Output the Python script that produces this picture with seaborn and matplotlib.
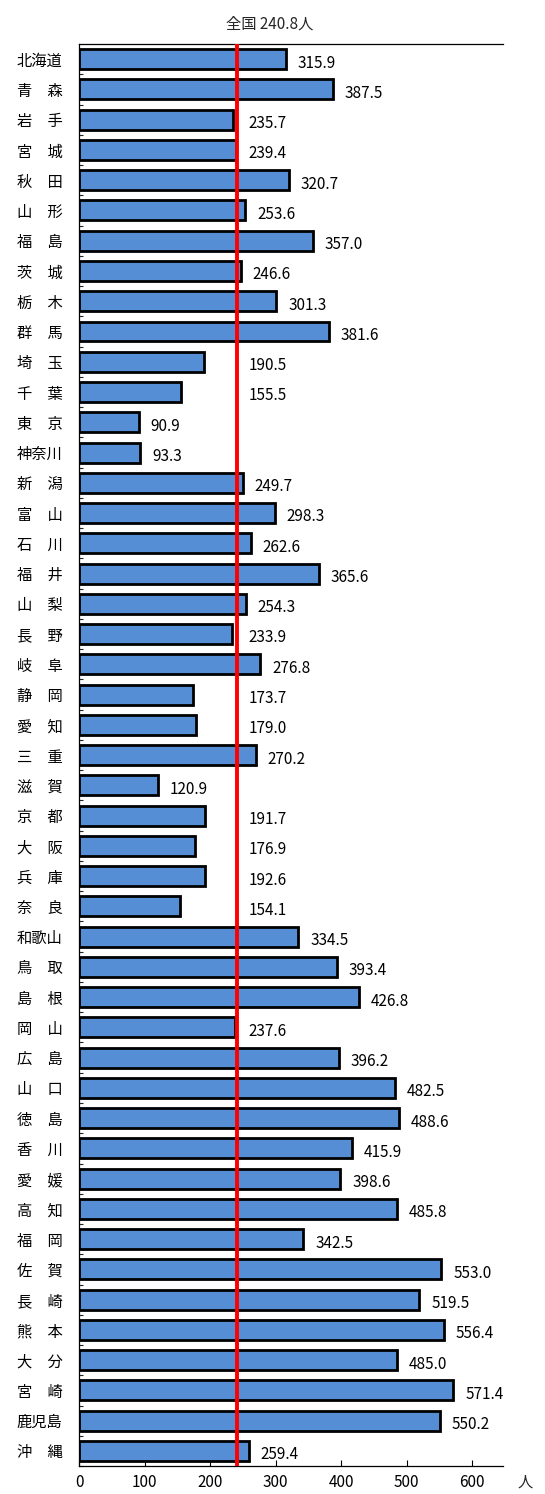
import matplotlib
matplotlib.use("Agg")
import matplotlib.pyplot as plt
import seaborn as sns
import pandas as pd
import numpy as np

sns.set_style("white")
plt.rcParams["font.family"] = ["Noto Sans CJK JP", "DejaVu Sans"]

# 都道府県別の値（人）
prefectures = [
    "北海道", "青　森", "岩　手", "宮　城", "秋　田", "山　形", "福　島",
    "茨　城", "栃　木", "群　馬", "埼　玉", "千　葉", "東　京", "神奈川",
    "新　潟", "富　山", "石　川", "福　井", "山　梨", "長　野", "岐　阜",
    "静　岡", "愛　知", "三　重", "滋　賀", "京　都", "大　阪", "兵　庫",
    "奈　良", "和歌山", "鳥　取", "島　根", "岡　山", "広　島", "山　口",
    "徳　島", "香　川", "愛　媛", "高　知", "福　岡", "佐　賀", "長　崎",
    "熊　本", "大　分", "宮　崎", "鹿児島", "沖　縄",
]
values = [
    315.9, 387.5, 235.7, 239.4, 320.7, 253.6, 357.0,
    246.6, 301.3, 381.6, 190.5, 155.5, 90.9, 93.3,
    249.7, 298.3, 262.6, 365.6, 254.3, 233.9, 276.8,
    173.7, 179.0, 270.2, 120.9, 191.7, 176.9, 192.6,
    154.1, 334.5, 393.4, 426.8, 237.6, 396.2, 482.5,
    488.6, 415.9, 398.6, 485.8, 342.5, 553.0, 519.5,
    556.4, 485.0, 571.4, 550.2, 259.4,
]
national = 240.8
x_ticks = [0, 100, 200, 300, 400, 500, 600]
unit = "人"

df = pd.DataFrame({"pref": prefectures, "value": values})

fig = plt.figure(figsize=(5.45, 14.94), dpi=100)
ax = fig.add_axes([0.145, 0.0187, 0.778, 0.9518])

sns.barplot(data=df, x="value", y="pref", orient="h", color="#558ED5",
            saturation=1, width=0.66, edgecolor="black", linewidth=2.0,
            ax=ax)

ax.set_xlim(0, 647)
ax.set_ylim(len(prefectures) - 0.5, -0.5)

# 全国値の基準線
ax.axvline(national, color="#FF0000", lw=2.8, zorder=5)

# 値ラベル：全国値より少し短い棒は基準線の右側に置く
for i, v in enumerate(values):
    base = max(v, national) if v >= 140 else v
    ax.text(base + 18, i + 0.13, f"{v:.1f}", va="center", ha="left",
            fontsize=11, color="black")

# 軸の体裁
ax.set_xlabel("")
ax.set_ylabel("")
ax.set_xticks(x_ticks)
ax.set_xticklabels([str(t) for t in x_ticks], fontsize=11)
ax.tick_params(axis="x", direction="in", length=4, width=0.8, pad=6,
               bottom=True, colors="black")
ax.tick_params(axis="y", which="major", length=0, pad=12, labelsize=11)
ax.set_yticks(np.arange(len(prefectures)) + 0.5, minor=True)
ax.tick_params(axis="y", which="minor", direction="in", length=3, width=0.8,
               left=True)
for lbl in ax.get_yticklabels():
    lbl.set_color("black")

for side in ["left", "bottom", "top"]:
    ax.spines[side].set_visible(True)
    ax.spines[side].set_color("black")
    ax.spines[side].set_linewidth(0.9)
ax.spines["right"].set_visible(False)

fig.text(270 / 545, 1 - 24 / 1494, f"全国 {national}人", ha="center",
         va="center", fontsize=11)
fig.text(525 / 545, 1 - 1482 / 1494, unit, ha="center", va="center",
         fontsize=11)

fig.savefig("out.png", dpi=100)
